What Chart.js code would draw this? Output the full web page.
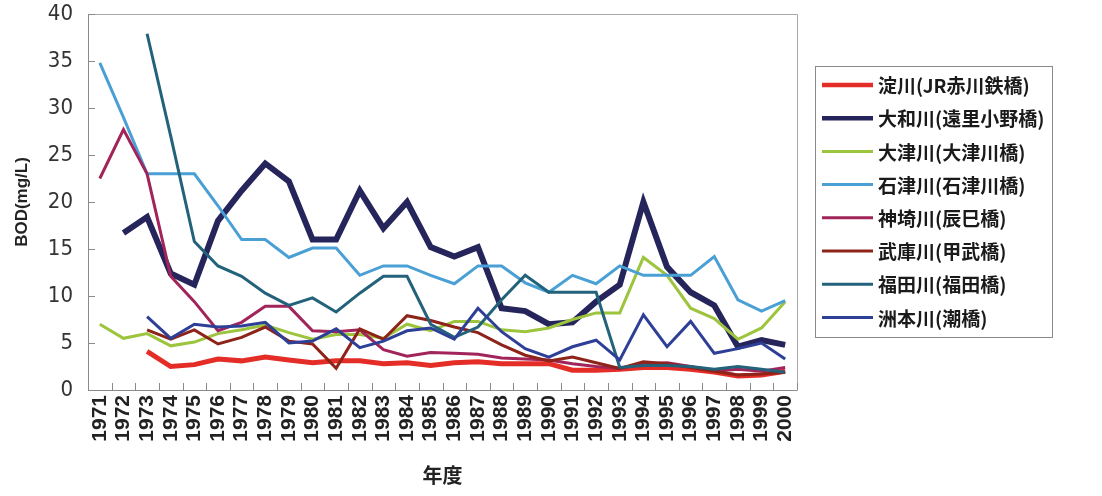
<!DOCTYPE html>
<html>
<head>
<meta charset="utf-8">
<script src="https://cdn.jsdelivr.net/npm/chart.js@4/dist/chart.umd.min.js"></script>
<style>
  html, body { margin: 0; padding: 0; background: #fff; }
  #wrap { width: 1102px; height: 496px; }
</style>
</head>
<body>
<div id="wrap"><canvas id="bod" width="1102" height="496"></canvas></div>
<script>
// BOD trend of rivers, 1971-2000
const years = ['1971','1972','1973','1974','1975','1976','1977','1978','1979','1980',
  '1981','1982','1983','1984','1985','1986','1987','1988','1989','1990',
  '1991','1992','1993','1994','1995','1996','1997','1998','1999','2000'];

const yodo     = [null,null,4.1,2.5,2.7,3.3,3.1,3.5,3.2,2.9,3.1,3.1,2.8,2.9,2.6,2.9,3.0,2.8,2.8,2.8,2.1,2.1,2.2,2.4,2.4,2.2,1.9,1.5,1.6,2.0];
const yamato   = [null,16.7,18.4,12.4,11.2,18.0,21.2,24.1,22.2,16.0,16.0,21.2,17.2,20.0,15.2,14.2,15.2,8.7,8.4,7.0,7.2,9.4,11.2,20.0,13.1,10.4,9.0,4.6,5.3,4.8];
const ootsu    = [7.0,5.5,6.0,4.7,5.1,6.0,6.4,6.9,6.1,5.4,5.9,5.9,5.5,7.0,6.3,7.3,7.3,6.4,6.2,6.6,7.5,8.2,8.2,14.1,12.2,8.7,7.6,5.4,6.6,9.4];
const ishizu   = [34.8,29.0,23.0,23.0,23.0,19.6,16.0,16.0,14.1,15.1,15.1,12.2,13.2,13.2,12.2,11.3,13.2,13.2,11.4,10.4,12.2,11.3,13.2,12.2,12.2,12.2,14.2,9.6,8.4,9.5];
const kanzaki  = [22.5,27.7,23.0,12.1,9.4,6.3,7.2,8.9,8.9,6.3,6.2,6.4,4.3,3.6,4.0,3.9,3.8,3.4,3.3,3.2,2.8,2.5,2.3,2.8,2.9,2.5,2.0,2.2,2.0,2.4];
const muko     = [null,null,6.4,5.4,6.4,4.9,5.6,6.7,5.2,4.9,2.3,6.5,5.4,7.9,7.4,6.7,6.1,4.8,3.7,3.1,3.5,2.9,2.3,3.0,2.8,2.4,2.0,1.6,1.7,1.9];
const fukuda   = [null,null,37.9,27.0,15.8,13.2,12.1,10.3,9.0,9.8,8.3,10.3,12.1,12.1,7.0,5.6,6.7,9.6,12.2,10.4,10.4,10.4,2.4,2.6,2.6,2.5,2.2,2.5,2.2,1.9];
const shumoto  = [null,null,7.8,5.5,7.0,6.7,6.8,7.2,5.0,5.2,6.5,4.5,5.2,6.3,6.6,5.4,8.7,6.2,4.4,3.5,4.6,5.3,3.2,8.0,4.6,7.3,3.9,4.4,5.0,3.3];

const seriesNames = ['淀川(JR赤川鉄橋)','大和川(遠里小野橋)','大津川(大津川橋)','石津川(石津川橋)',
  '神埼川(辰巳橋)','武庫川(甲武橋)','福田川(福田橋)','洲本川(潮橋)'];
const seriesData = [yodo, yamato, ootsu, ishizu, kanzaki, muko, fukuda, shumoto];
const seriesColors = ['#e52d27','#25255c','#9cc43c','#4aa0d5','#a1245a','#8e2419','#22627a','#2e3f97'];
const lineWidths = [5, 6, 3, 3, 3, 3, 3, 3];
const legendWidths = [4.5, 4.5, 3, 3, 3, 3, 3, 3];

const yTicksMax = 40, yStep = 5;

// frame + inward tick marks like the original
const framePlugin = {
  id: 'frame',
  beforeDatasetsDraw(chart) {
    const {ctx, chartArea: a, scales: {x, y}} = chart;
    ctx.save();
    ctx.lineWidth = 1;
    ctx.strokeStyle = '#a8a8a8';
    ctx.beginPath();
    ctx.moveTo(a.left, a.top + 0.5); ctx.lineTo(a.right + 0.5, a.top + 0.5);
    ctx.lineTo(a.right + 0.5, a.bottom);
    ctx.stroke();
    ctx.strokeStyle = '#8a8a8a';
    ctx.beginPath();
    ctx.moveTo(a.left + 0.5, a.top); ctx.lineTo(a.left + 0.5, a.bottom + 0.5);
    ctx.lineTo(a.right + 0.5, a.bottom + 0.5);
    // y ticks
    y.ticks.forEach(t => {
      const py = Math.round(y.getPixelForValue(t.value)) + 0.5;
      ctx.moveTo(a.left, py); ctx.lineTo(a.left + 7, py);
    });
    // x ticks between categories
    const half = (x.getPixelForValue(1) - x.getPixelForValue(0)) / 2;
    for (let i = 0; i <= years.length; i++) {
      const px = Math.round(x.getPixelForValue(i) - half) + 0.5;
      ctx.moveTo(px, a.bottom); ctx.lineTo(px, a.bottom - 7);
    }
    ctx.stroke();
    ctx.restore();
  }
};

// boxed legend on the right
const legendPlugin = {
  id: 'boxLegend',
  afterDraw(chart) {
    const {ctx, chartArea: a} = chart;
    const bx = a.right + 18, by = 66, bw = 237, bh = 271;
    ctx.save();
    ctx.strokeStyle = '#8a8a8a';
    ctx.lineWidth = 1;
    ctx.strokeRect(bx + 0.5, by + 0.5, bw, bh);
    ctx.font = 'bold 19px "Noto Sans CJK JP", sans-serif';
    ctx.textBaseline = 'middle';
    chart.data.datasets.forEach((ds, i) => {
      const cy = by + 19 + i * 33.2;
      ctx.strokeStyle = ds.borderColor;
      ctx.lineWidth = legendWidths[i];
      ctx.beginPath();
      ctx.moveTo(bx + 7, cy); ctx.lineTo(bx + 58, cy);
      ctx.stroke();
      ctx.fillStyle = '#1a1a1a';
      ctx.fillText(ds.label, bx + 63, cy + 1);
    });
    ctx.restore();
  }
};

const datasets = seriesNames.map((name, i) => ({
  label: name,
  data: seriesData[i],
  borderColor: seriesColors[i],
  backgroundColor: seriesColors[i],
  borderWidth: lineWidths[i],
  pointRadius: 0,
  tension: 0,
  fill: false,
  order: seriesNames.length - i   // first series drawn first (underneath)
}));

new Chart(document.getElementById('bod').getContext('2d'), {
  type: 'line',
  data: {labels: years, datasets},
  options: {
    responsive: false,
    animation: false,
    layout: {padding: {top: 0, right: 305, left: 0, bottom: 0}},
    plugins: {legend: {display: false}, tooltip: {enabled: false}},
    scales: {
      x: {
        type: 'category',
        offset: true,
        grid: {display: false, drawTicks: false},
        border: {display: false},
        ticks: {
          autoSkip: false, maxRotation: 90, minRotation: 90, padding: 5,
          color: '#222', font: {family: '"Liberation Sans", Arial, sans-serif', size: 21, weight: 'bold'}
        },
        title: {
          display: true, text: '年度', color: '#222',
          font: {family: '"Noto Sans CJK JP", sans-serif', size: 20, weight: 'bold'},
          padding: {top: 0, bottom: 9}
        },
        afterFit: s => { s.height = 106; }
      },
      y: {
        min: 0, max: yTicksMax,
        grid: {display: false, drawTicks: false},
        border: {display: false},
        ticks: {
          stepSize: yStep, padding: 15, color: '#333',
          font: {family: '"Liberation Sans Narrow", "DejaVu Sans Condensed", sans-serif', size: 22}
        },
        title: {
          display: true, text: 'BOD(mg/L)', color: '#222',
          font: {family: '"Liberation Sans", Arial, sans-serif', size: 17, weight: 'bold'},
          padding: {top: 12, bottom: 0}
        },
        afterFit: s => { s.width = 88; s.paddingTop = 14; s.paddingBottom = 0; }
      }
    }
  },
  plugins: [framePlugin, legendPlugin]
});
</script>
</body>
</html>
